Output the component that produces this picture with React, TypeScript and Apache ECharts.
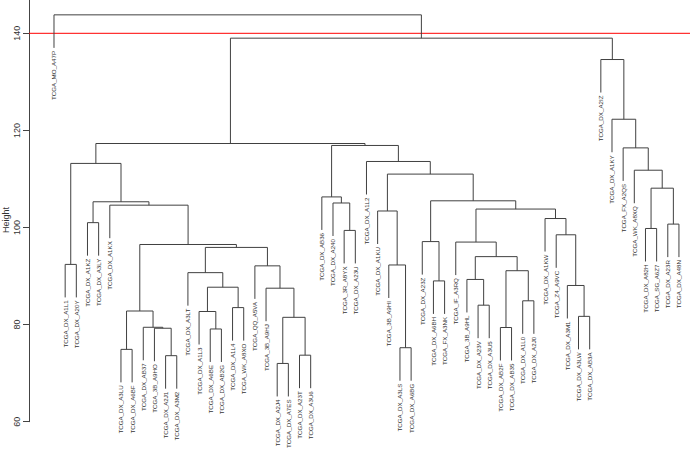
import React, { useEffect, useRef } from "react";
import * as echarts from "echarts";

// Leaf labels in dendrogram order (left to right)
const leafLabels = [
  "TCGA_MO_A47P", "TCGA_DX_A1L1", "TCGA_DX_A20Y", "TCGA_DX_A1KZ", "TCGA_DX_A3LY",
  "TCGA_DX_A1KX", "TCGA_DX_A3LU", "TCGA_DX_A6BF", "TCGA_DX_AB37", "TCGA_3B_A9HO",
  "TCGA_DX_A2J1", "TCGA_DX_A3M2", "TCGA_DX_A3LT", "TCGA_DX_A1L3", "TCGA_DX_A6BE",
  "TCGA_DX_AB2G", "TCGA_DX_A1L4", "TCGA_WK_A8XO", "TCGA_QQ_A5VA", "TCGA_3B_A9HJ",
  "TCGA_DX_A2J4", "TCGA_DX_A7ES", "TCGA_DX_A23T", "TCGA_DX_A3U6", "TCGA_DX_AB36",
  "TCGA_DX_A240", "TCGA_3R_A8YX", "TCGA_DX_A23U", "TCGA_DX_A1L2", "TCGA_DX_A1KU",
  "TCGA_3B_A9HI", "TCGA_DX_A3LS", "TCGA_DX_A6BG", "TCGA_DX_A23Z", "TCGA_DX_A6BH",
  "TCGA_FX_A3NK", "TCGA_IF_A3RQ", "TCGA_3B_A9HL", "TCGA_DX_A23V", "TCGA_DX_A3U5",
  "TCGA_DX_AB2F", "TCGA_DX_AB35", "TCGA_DX_A1L0", "TCGA_DX_A2J0", "TCGA_DX_A1KW",
  "TCGA_Z4_A9VC", "TCGA_DX_A3M1", "TCGA_DX_A3LW", "TCGA_DX_AB3A", "TCGA_DX_A2IZ",
  "TCGA_DX_A1KY", "TCGA_FX_A2QS", "TCGA_WK_A8XQ", "TCGA_DX_A82H", "TCGA_SG_A6Z7",
  "TCGA_DX_A23R", "TCGA_DX_A48N",
];

// Merge steps (like hclust$merge): negative = leaf number (1-based, in order above),
// positive = an earlier merge step (1-based)
const mergeLeft = [
  -7, -11, -10, -9, 1, -15, -14, -17, 7, -13,
  -21, -23, 11, -20, -19, 10, 5, -6, -4, 19,
  -2, 21, -27, -26, -25, -32, -31, -30, -35, -34,
  -39, -38, -41, -43, 33, 32, -37, -48, -47, -46,
  -45, 37, 30, 28, -29, 25, 22, -54, -56, 48,
  -53, -52, -51, -50, 47, -1,
];
const mergeRight = [
  -8, -12, 2, 3, 4, -16, 6, -18, 8, 9,
  -22, -24, 12, 13, 14, 15, 16, 17, -5, 18,
  -3, 20, -28, 23, 24, -33, 26, 27, -36, 29,
  -40, 31, -42, -44, 34, 35, 36, -49, 38, 39,
  40, 41, 42, 43, 44, 45, 46, -55, -57, 49,
  50, 51, 52, 53, 54, 55,
];
const mergeHeight = [
  74.9, 73.6, 79.25, 79.45, 82.8, 79.1, 82.7, 83.5, 87.7, 90.7,
  72.0, 73.7, 81.5, 87.5, 92.1, 95.9, 96.5, 104.6, 101.0, 105.3,
  92.4, 113.2, 99.4, 105.05, 106.3, 75.24, 92.28, 103.4, 89.0, 97.1,
  84.0, 89.3, 79.4, 84.9, 91.1, 94.0, 97.0, 81.7, 88.06, 98.5,
  101.85, 103.8, 105.5, 111.0, 113.6, 116.9, 117.3, 99.8, 100.7, 108.1,
  111.8, 116.4, 122.3, 134.6, 139.0, 143.8,
];

const yTicks = [60, 80, 100, 120, 140];
const cutHeight = 140;

const HANG = 6.8;
const X_MIN = -1.24;
const X_MAX = 57.99;
const FONT = "'Liberation Sans', Arial, Helvetica, sans-serif";

function buildTree() {
  const nodeX: number[] = [];
  const nodeY: number[] = [];
  const leafEnd: number[] = new Array(leafLabels.length).fill(0);
  const segments: number[][] = [];
  const child = (ref: number, h: number) => {
    if (ref < 0) {
      const y = h - HANG;
      leafEnd[-ref - 1] = y;
      return [-ref, y];
    }
    return [nodeX[ref - 1], nodeY[ref - 1]];
  };
  mergeHeight.forEach((h, i) => {
    const [xa, ya] = child(mergeLeft[i], h);
    const [xb, yb] = child(mergeRight[i], h);
    segments.push([xa, ya, xa, h]);
    segments.push([xa, h, xb, h]);
    segments.push([xb, h, xb, yb]);
    nodeX[i] = (xa + xb) / 2;
    nodeY[i] = h;
  });
  const leaves = leafLabels.map((_, i) => [i + 1, leafEnd[i]]);
  return { segments, leaves };
}

export default function App() {
  const ref = useRef<HTMLDivElement>(null);
  useEffect(() => {
    document.body.style.margin = "0";
    if (!ref.current) return;
    const chart = echarts.init(ref.current, undefined, { renderer: "svg" });
    const { segments, leaves } = buildTree();
    chart.setOption({
      animation: false,
      backgroundColor: "#ffffff",
      grid: { left: 29, right: 0, top: 0, bottom: 30.3, containLabel: false },
      xAxis: {
        type: "value",
        min: X_MIN,
        max: X_MAX,
        show: false,
      },
      yAxis: {
        type: "value",
        min: 60,
        max: 146.86,
        interval: 20,
        axisLine: { show: true, onZero: false, lineStyle: { color: "#444", width: 1 } },
        axisTick: { show: true, length: 6, lineStyle: { color: "#444" }, customValues: yTicks },
        axisLabel: {
          rotate: 90,
          margin: 8,
          fontSize: 9,
          color: "#333",
          fontFamily: FONT,
          customValues: yTicks,
          formatter: (v: number) => (v % 20 === 0 ? String(v) : ""),
        },
        splitLine: { show: false },
      },
      graphic: [
        {
          type: "text",
          x: 6,
          y: 220,
          rotation: Math.PI / 2,
          style: {
            text: "Height",
            fontSize: 9,
            fontFamily: FONT,
            fill: "#333",
            align: "center",
            verticalAlign: "middle",
          },
        },
      ],
      series: [
        {
          type: "line",
          name: "cut",
          data: [
            [X_MIN, cutHeight],
            [X_MAX, cutHeight],
          ],
          symbol: "none",
          silent: true,
          lineStyle: { color: "#ff0000", width: 1 },
          itemStyle: { color: "#ff0000" },
          z: 1,
        },
        {
          type: "custom",
          name: "tree",
          data: segments,
          encode: { x: [0, 2], y: [1, 3] },
          clip: false,
          z: 2,
          renderItem: (_p: any, api: any) => {
            const a = api.coord([api.value(0), api.value(1)]);
            const b = api.coord([api.value(2), api.value(3)]);
            return {
              type: "line",
              shape: { x1: a[0], y1: a[1], x2: b[0], y2: b[1] },
              style: { stroke: "#404040", lineWidth: 1 },
            };
          },
        },
        {
          type: "custom",
          name: "labels",
          data: leaves,
          encode: { x: 0, y: 1 },
          clip: false,
          renderItem: (p: any, api: any) => {
            const a = api.coord([api.value(0), api.value(1)]);
            return {
              type: "text",
              x: a[0],
              y: a[1] + 3,
              rotation: Math.PI / 2,
              style: {
                text: leafLabels[p.dataIndex],
                fontSize: 6.2,
                fontFamily: FONT,
                fill: "#333",
                align: "right",
                verticalAlign: "middle",
              },
            };
          },
        },
      ],
    });
    return () => chart.dispose();
  }, []);
  return (
    <div
      ref={ref}
      style={{ position: "fixed", left: 0, top: 0, width: 690, height: 452 }}
    />
  );
}
